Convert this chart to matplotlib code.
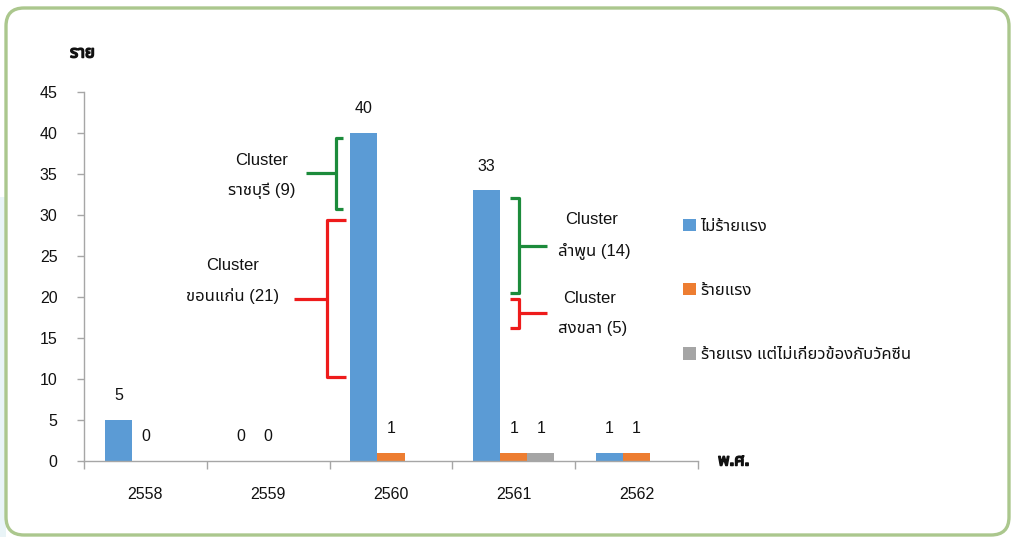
import numpy as np
import matplotlib
matplotlib.use("Agg")
import matplotlib.pyplot as plt
import matplotlib.patheffects as pe
from matplotlib import font_manager
from matplotlib.ft2font import FT2Font
from matplotlib.patches import FancyBboxPatch, Rectangle
from matplotlib.transforms import IdentityTransform

# ---- data -------------------------------------------------------------
years = ["2558", "2559", "2560", "2561", "2562"]
not_severe = [5, 0, 40, 33, 1]
severe = [0, 0, 1, 1, 1]
severe_unrelated = [np.nan, np.nan, np.nan, 1, np.nan]
series_names = ["ไม่ร้ายแรง", "ร้ายแรง", "ร้ายแรง แต่ไม่เกี่ยวข้องกับวัคซีน"]
y_unit = "ราย"
x_unit = "พ.ศ."

# ---- fonts: find a family that can draw Thai ---------------------------
def thai_families():
    wanted = [ord("ร"), ord("้"), ord("ำ")]
    found = []
    for entry in font_manager.fontManager.ttflist:
        if entry.name in found:
            continue
        try:
            cmap = FT2Font(entry.fname).get_charmap()
        except Exception:
            continue
        if all(c in cmap for c in wanted):
            found.append(entry.name)
    preferred = ["Tahoma", "Noto Sans Thai", "Noto Sans Thai UI", "Loma", "Garuda",
                 "Sarabun", "Kinnari", "Norasi", "Waree", "Umpush"]
    found.sort(key=lambda n: preferred.index(n) if n in preferred else len(preferred))
    return found

FAMILY = ["Liberation Sans"] + thai_families()[:2] + ["DejaVu Sans"]
plt.rcParams["font.family"] = FAMILY
plt.rcParams["font.size"] = 11
TXT = "#111111"

# ---- figure ------------------------------------------------------------
W, H = 1013, 537
fig = plt.figure(figsize=(W / 100, H / 100), dpi=100)
fig.patch.set_facecolor("white")

# pale tint at the left edge and the rounded green frame
fig.patches.append(Rectangle((0, 0), 6, 340, transform=IdentityTransform(),
                             facecolor="#e9f4f7", edgecolor="none", zorder=-2))
fig.patches.append(FancyBboxPatch((6, 2), 1003, 527,
                                  boxstyle="round,pad=0,rounding_size=18",
                                  transform=IdentityTransform(),
                                  facecolor="white", edgecolor="#abc78d",
                                  linewidth=2.4, zorder=-1))

ax = fig.add_axes([84 / W, (H - 461) / H, (698 - 84) / W, (461 - 92) / H])
ax.set_facecolor("none")
ax.set_zorder(1)

x = np.arange(len(years))
w = 0.22
colors = ["#5b9bd5", "#ed7d31", "#a5a5a5"]
all_series = [not_severe, severe, severe_unrelated]
for i, (vals, col, name) in enumerate(zip(all_series, colors, series_names)):
    vals = np.asarray(vals, dtype=float)
    bars = ax.bar(x + (i - 1) * w, np.nan_to_num(vals), width=w, color=col,
                  label=name, zorder=2)
    labels = ["" if np.isnan(v) else f"{v:g}" for v in vals]
    ax.bar_label(bars, labels=labels, padding=12, fontsize=11.5, color=TXT)

ax.set_xlim(-0.5, len(years) - 0.5)
ax.set_ylim(0, 45)
ax.set_yticks(np.arange(0, 46, 5))

# category ticks sit on the boundaries between years
ax.set_xticks(np.arange(len(years) + 1) - 0.5, minor=False)
ax.set_xticklabels([])
ax.set_xticks(x, minor=True)
ax.set_xticklabels(years, minor=True)
ax.tick_params(axis="x", which="major", length=6, color="#a6a6a6", width=1)
ax.tick_params(axis="x", which="minor", length=0, pad=19, labelsize=11.5,
               labelcolor=TXT)
ax.tick_params(axis="y", length=5, color="#a6a6a6", width=1, pad=14,
               labelsize=11.5, labelcolor=TXT)

for side in ["top", "right"]:
    ax.spines[side].set_visible(False)
for side in ["left", "bottom"]:
    ax.spines[side].set_color("#a6a6a6")
    ax.spines[side].set_linewidth(1)

heavy = [pe.withStroke(linewidth=1.1, foreground=TXT)]
fig.text(70 / W, 1 - 53 / H, y_unit, fontweight="bold", fontsize=12,
         ha="left", va="center", color=TXT, path_effects=heavy)
fig.text(718 / W, 1 - 461 / H, x_unit, fontweight="bold", fontsize=12,
         ha="left", va="center", color=TXT, path_effects=heavy)

# ---- cluster braces ----------------------------------------------------
def brace(x_spine, x_serif, x_stem, y_top, y_bot, y_mid, color):
    ax.plot([x_serif, x_spine, x_spine, x_serif], [y_top, y_top, y_bot, y_bot],
            color=color, lw=2.3, solid_joinstyle="round", solid_capstyle="butt",
            clip_on=False, zorder=3)
    ax.plot([x_spine, x_stem], [y_mid, y_mid], color=color, lw=2.3,
            solid_capstyle="butt", clip_on=False, zorder=3)

green, red = "#1c8b3b", "#ee1b1b"
brace(1.55, 1.61, 1.31, 39.4, 30.7, 35.1, green)
brace(1.48, 1.63, 1.21, 29.4, 10.2, 19.8, red)
brace(3.04, 2.97, 3.27, 32.1, 20.5, 26.2, green)
brace(3.04, 2.97, 3.27, 19.8, 16.2, 18.0, red)

def cluster_text(xc, y1, y2, name, n, ha="center", dx=0.0):
    ax.text(xc + dx, y1, "Cluster", ha=ha, va="center", fontsize=12, color=TXT)
    ax.text(xc, y2, f"{name} ({n})", ha=ha, va="center", fontsize=12, color=TXT)

cluster_text(0.95, 36.6, 32.9, "ราชบุรี", 9)
cluster_text(0.71, 23.9, 20.1, "ขอนแก่น", 21)
cluster_text(3.36, 29.4, 25.7, "ลำพูน", 14, ha="left", dx=0.06)
cluster_text(3.36, 19.8, 16.2, "สงขลา", 5, ha="left", dx=0.04)

# ---- legend ------------------------------------------------------------
fig.legend(loc="upper left", bbox_to_anchor=(676 / W, 1 - 212 / H),
           frameon=False, fontsize=12, handlelength=0.78, handleheight=0.78,
           handletextpad=0.3, labelspacing=2.95, borderaxespad=0,
           labelcolor=TXT)

fig.savefig("out.png", dpi=100)
